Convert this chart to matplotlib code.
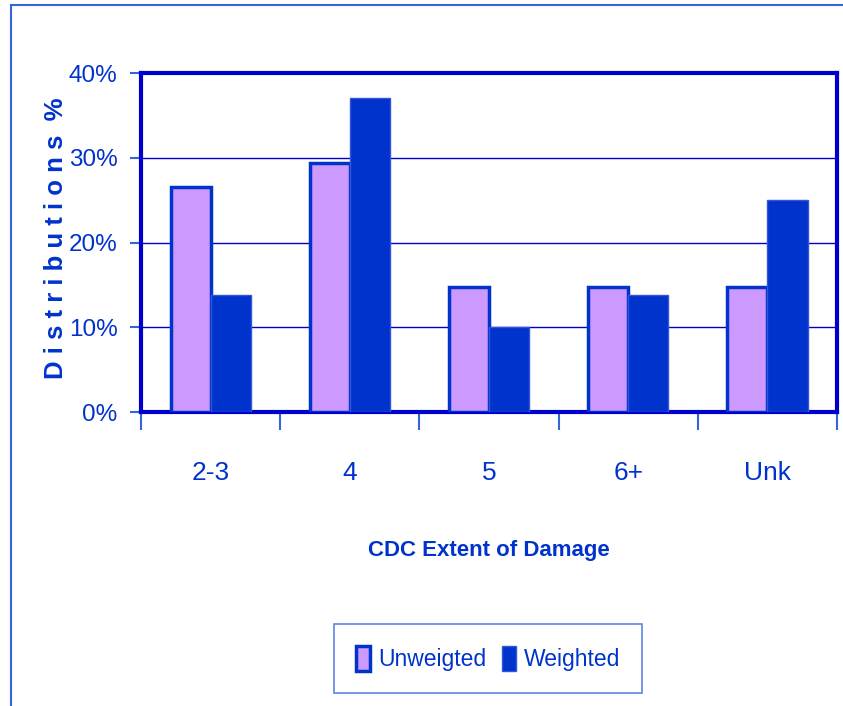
import matplotlib
matplotlib.use("Agg")
import matplotlib.pyplot as plt
import numpy as np
from matplotlib.lines import Line2D
from matplotlib.ticker import FixedLocator, PercentFormatter

categories = ["2-3", "4", "5", "6+", "Unk"]
unweighted = [26.5, 29.4, 14.7, 14.7, 14.7]
weighted = [13.8, 37.0, 10.0, 13.8, 25.0]
series_names = ["Unweigted", "Weighted"]

BLUE = "#0033cc"
AXIS_BLUE = "#0000cc"
LILAC = "#cc99ff"

plt.rcParams["font.family"] = ["Liberation Sans Narrow", "Liberation Sans", "DejaVu Sans"]

fig = plt.figure(figsize=(8.43, 7.06), dpi=100)
ax = fig.add_axes([0.1673, 0.4164, 0.8256, 0.4802])

x = np.arange(len(categories))
w = 0.288
ax.bar(x - w / 2, unweighted, w, color=LILAC, edgecolor=BLUE, linewidth=2.5,
       label=series_names[0], zorder=3)
ax.bar(x + w / 2, weighted, w, color=BLUE, edgecolor="#3355dd", linewidth=1,
       label=series_names[1], zorder=3)

ax.set_xlim(-0.5, len(categories) - 0.5)
ax.set_ylim(0, 40)
ax.yaxis.set_major_locator(FixedLocator([0, 10, 20, 30, 40]))
ax.yaxis.set_major_formatter(PercentFormatter(decimals=0))
ax.grid(axis="y", color=AXIS_BLUE, linewidth=1, zorder=1)

# category labels sit under the groups, ticks mark the boundaries
ax.set_xticks(np.arange(len(categories) + 1) - 0.5)
ax.set_xticklabels([])
ax.set_xticks(x, minor=True)
ax.set_xticklabels(categories, minor=True)
ax.tick_params(axis="x", which="major", length=13, width=1.5, color="#3366dd",
               direction="out")
ax.tick_params(axis="x", which="minor", length=0, pad=35, labelsize=19,
               labelcolor=BLUE)
ax.tick_params(axis="y", length=8, width=1.5, color="#3366dd", labelsize=17.5,
               labelcolor=BLUE, pad=9)

for side in ax.spines.values():
    side.set_color(AXIS_BLUE)
    side.set_linewidth(3)

ax.set_xlabel("CDC Extent of Damage", fontsize=16, fontweight="bold",
              color=BLUE, labelpad=40)
fig.text(0.066, 0.663, "D i s t r i b u t i o n s  %", rotation=90,
         fontsize=18.5, fontweight="bold", color=BLUE, ha="center", va="center")

leg = fig.legend(loc="center", bbox_to_anchor=(0.579, 0.0673), ncol=2,
                 fontsize=16.5, frameon=True, fancybox=False,
                 handlelength=0.6, handleheight=1.3, handletextpad=0.35,
                 columnspacing=0.7, borderpad=0.95, borderaxespad=0)
leg.get_frame().set_edgecolor("#3366dd")
leg.get_frame().set_linewidth(1.2)
for t in leg.get_texts():
    t.set_color(BLUE)

# outer chart border along the top and left
fig.add_artist(Line2D([11 / 843, 11 / 843], [0, 1 - 5 / 706], color="#3366dd",
                      linewidth=1.5, transform=fig.transFigure))
fig.add_artist(Line2D([11 / 843, 1], [1 - 5 / 706, 1 - 5 / 706], color="#3366dd",
                      linewidth=1.5, transform=fig.transFigure))

fig.savefig("out.png", dpi=100)
